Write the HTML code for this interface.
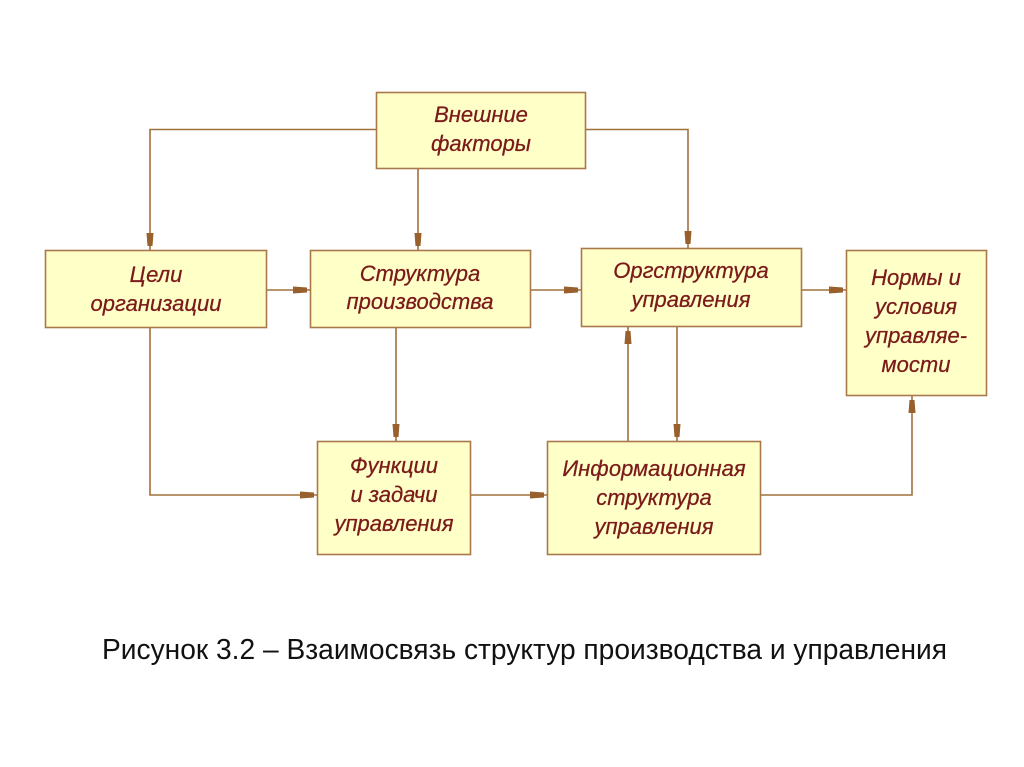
<!DOCTYPE html>
<html>
<head>
<meta charset="utf-8">
<style>
  html,body{margin:0;padding:0;background:#ffffff;}
  svg{display:block;}
  .box{fill:#ffffc8;stroke:#a8794a;stroke-width:1.6;}
  .ln{fill:none;stroke:#a0703c;stroke-width:1.6;}
  .ah{fill:#97602c;}
  .t{font-family:"Liberation Sans","DejaVu Sans",sans-serif;font-style:italic;font-size:22px;fill:#7a1a1a;stroke:#7a1a1a;stroke-width:0.25;text-anchor:middle;}
  .cap{font-family:"Liberation Sans","DejaVu Sans",sans-serif;font-size:28.5px;fill:#111;}
</style>
</head>
<body>
<svg width="1024" height="767" viewBox="0 0 1024 767" xmlns="http://www.w3.org/2000/svg">
  <!-- connectors -->
  <polyline class="ln" points="376,129.5 150,129.5 150,250"/>
  <polyline class="ln" points="585,129.5 688,129.5 688,248"/>
  <line class="ln" x1="418" y1="169" x2="418" y2="250"/>
  <line class="ln" x1="266" y1="290" x2="310" y2="290"/>
  <line class="ln" x1="531" y1="290" x2="581" y2="290"/>
  <line class="ln" x1="802" y1="290" x2="846" y2="290"/>
  <polyline class="ln" points="150,328 150,495 317,495"/>
  <line class="ln" x1="396" y1="328" x2="396" y2="441"/>
  <line class="ln" x1="471" y1="495" x2="547" y2="495"/>
  <line class="ln" x1="628" y1="441" x2="628" y2="327"/>
  <line class="ln" x1="677" y1="327" x2="677" y2="441"/>
  <polyline class="ln" points="761,495 912,495 912,396"/>

  <!-- arrowheads: down -->
  <polygon class="ah" points="146.5,233 153.5,233 152.5,246 147.5,246"/>
  <polygon class="ah" points="684.5,231 691.5,231 690.5,244 685.5,244"/>
  <polygon class="ah" points="414.5,233 421.5,233 420.5,246 415.5,246"/>
  <polygon class="ah" points="392.5,424 399.5,424 398.5,437 393.5,437"/>
  <polygon class="ah" points="673.5,424 680.5,424 679.5,437 674.5,437"/>
  <!-- arrowheads: right -->
  <polygon class="ah" points="293,286.5 293,293.5 307,292.5 307,287.5"/>
  <polygon class="ah" points="564,286.5 564,293.5 578,292.5 578,287.5"/>
  <polygon class="ah" points="829,286.5 829,293.5 843,292.5 843,287.5"/>
  <polygon class="ah" points="300,491.5 300,498.5 314,497.5 314,492.5"/>
  <polygon class="ah" points="530,491.5 530,498.5 544,497.5 544,492.5"/>
  <!-- arrowheads: up -->
  <polygon class="ah" points="624.5,344 631.5,344 630.5,331 625.5,331"/>
  <polygon class="ah" points="908.5,413 915.5,413 914.5,400 909.5,400"/>

  <!-- boxes -->
  <rect class="box" x="376.5" y="92.5" width="209" height="76"/>
  <rect class="box" x="45.5" y="250.5" width="221" height="77"/>
  <rect class="box" x="310.5" y="250.5" width="220" height="77"/>
  <rect class="box" x="581.5" y="248.5" width="220" height="78"/>
  <rect class="box" x="846.5" y="250.5" width="140" height="145"/>
  <rect class="box" x="317.5" y="441.5" width="153" height="113"/>
  <rect class="box" x="547.5" y="441.5" width="213" height="113"/>

  <!-- labels -->
  <text class="t" x="481" y="122">Внешние</text>
  <text class="t" x="481" y="151">факторы</text>

  <text class="t" x="156" y="282">Цели</text>
  <text class="t" x="156" y="311">организации</text>

  <text class="t" x="420" y="281">Структура</text>
  <text class="t" x="420" y="309">производства</text>

  <text class="t" x="691" y="278">Оргструктура</text>
  <text class="t" x="691" y="307">управления</text>

  <text class="t" x="916" y="285">Нормы и</text>
  <text class="t" x="916" y="314">условия</text>
  <text class="t" x="916" y="343">управляе-</text>
  <text class="t" x="916" y="372">мости</text>

  <text class="t" x="394" y="473">Функции</text>
  <text class="t" x="394" y="502">и задачи</text>
  <text class="t" x="394" y="531">управления</text>

  <text class="t" x="654" y="476">Информационная</text>
  <text class="t" x="654" y="505">структура</text>
  <text class="t" x="654" y="534">управления</text>

  <!-- caption -->
  <text class="cap" x="102" y="659" textLength="845" lengthAdjust="spacingAndGlyphs">Рисунок 3.2 – Взаимосвязь структур производства и управления</text>
</svg>
</body>
</html>
